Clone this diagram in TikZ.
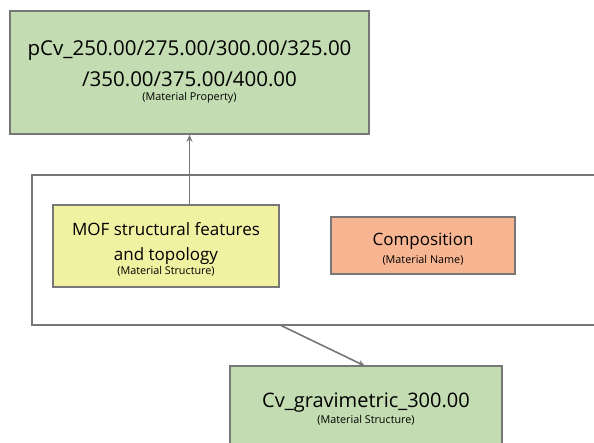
\documentclass[tikz,border=0pt]{standalone}
\usepackage{fontspec}
\setmainfont{Open Sans}
\usetikzlibrary{arrows.meta}
\definecolor{boxgreen}{HTML}{C3DCB2}
\definecolor{boxyellow}{HTML}{F1F1A2}
\definecolor{boxsalmon}{HTML}{F8B591}
\definecolor{edgegray}{HTML}{777777}
\newcommand{\bigtxt}{\fontsize{20.5}{26}\selectfont}
\newcommand{\bottxt}{\fontsize{20}{26}\selectfont}
\newcommand{\midtxt}{\fontsize{17}{26}\selectfont}
\newcommand{\smalltxt}{\fontsize{10.8}{12}\selectfont}
\tikzset{
  box/.style={draw=edgegray, line width=1.6pt, inner sep=0pt},
  lbl/.style={align=center, inner sep=0pt},
  conn/.style={draw=edgegray, line width=1.6pt, -{Stealth[length=7pt,width=6pt]}},
}
\begin{document}
\begin{tikzpicture}[x=1pt,y=1pt]
\useasboundingbox (0,0) rectangle (594,442);
\clip (0,0) rectangle (594,442);
\fill[white] (0,0) rectangle (594,442);
% top property box
\node[box, fill=boxgreen, minimum width=359pt, minimum height=123pt] (top) at (189.5,369.5) {};
\node[lbl, font=\bigtxt] (topa) at (189.5,391) {pCv\_250.00/275.00/300.00/325.00};
\node[lbl, font=\bigtxt] (topb) at (189.5,363) {/350.00/375.00/400.00};
\node[lbl, font=\smalltxt] (topc) at (189.5,344) {(Material Property)};
% container
\node[draw=edgegray, line width=1.6pt, minimum width=580pt, minimum height=150pt, inner sep=0pt] (group) at (322,192) {};
% MOF box
\node[box, fill=boxyellow, minimum width=226pt, minimum height=82pt] (mof) at (166,196) {};
\node[lbl, font=\midtxt] (mofa) at (166,212.5) {MOF structural features};
\node[lbl, font=\midtxt] (mofb) at (166,185.5) {and topology};
\node[lbl, font=\smalltxt] (mofc) at (166,171) {(Material Structure)};
% Composition box
\node[box, fill=boxsalmon, minimum width=184pt, minimum height=57pt] (comp) at (423,196.5) {};
\node[lbl, font=\midtxt] (compa) at (423,200.5) {Composition};
\node[lbl, font=\smalltxt] (compb) at (423,182) {(Material Name)};
% bottom box
\node[box, fill=boxgreen, minimum width=272pt, minimum height=90pt] (bot) at (366,31) {};
\node[lbl, font=\bottxt] (bota) at (366,39.5) {Cv\_gravimetric\_300.00};
\node[lbl, font=\smalltxt] (botb) at (366,22) {(Material Structure)};
% connectors
\coordinate (gout) at (280,117);
\coordinate (bin) at (365,76);
\draw[conn] (top.south |- mof.north) -- (top.south);
\draw[conn] (gout) -- (bin);
\end{tikzpicture}
\end{document}
